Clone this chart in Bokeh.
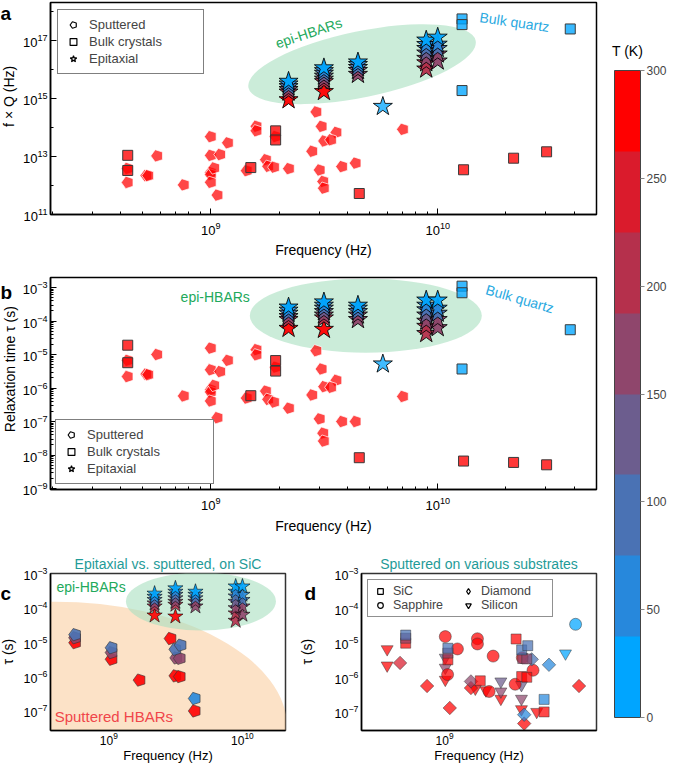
import numpy as np
from bokeh.plotting import figure
from bokeh.models import (FixedTicker, Legend, LegendItem, ColorBar, LinearColorMapper,
                          Label, ColumnDataSource, Range1d)
from bokeh.core.properties import value
from bokeh.transform import transform
from bokeh.layouts import row, column
from bokeh.embed import file_html
from bokeh.resources import INLINE

FONT = "Liberation Sans"
GREEN = "#22a95b"
QUARTZ = "#29a9e1"
TEAL = "#1f9b98"
RED_TXT = "#f0464a"

# ---------------- colour scale (temperature, K) ----------------
T_ticks = [0, 50, 100, 150, 200, 250, 300]
PAL = ["#00a5ff", "#2788dc", "#4a72b4", "#6c5d8e", "#8f466c", "#b5304c", "#da1b2c", "#ff0000"]
mapper = LinearColorMapper(palette=PAL, low=0, high=300)

# ---------------- panels a & b data ----------------
sput_f = [4.3e8, 4.3e8, 5.8e8, 5.2e8, 5.3e8, 7.6e8, 1.0e9, 1.0e9, 1.0e9, 1.0e9, 1.0e9,
          1.035e9, 1.1e9, 1.07e9, 1.19e9, 1.59e9, 1.59e9, 1.93e9, 1.44e9, 1.75e9, 1.79e9,
          1.9e9, 2.21e9, 2.92e9, 3.08e9, 3.58e9, 3.16e9, 3.39e9, 2.8e9, 3.02e9, 3.79e9,
          4.35e9, 3.13e9, 3.15e9, 7.03e9]
sput_tau = [6.7e-6, 2.2e-6, 1.0e-5, 2.6e-6, 2.5e-6, 5.8e-7, 1.55e-5, 3.5e-6, 8.9e-7, 7.6e-7, 4.1e-7,
            1.2e-6, 3.1e-6, 1.3e-7, 6.7e-6, 1.4e-5, 9.8e-6, 4.2e-6, 5.0e-7, 8.1e-7, 4.6e-7,
            3.8e-7, 2.5e-7, 1.3e-5, 3.7e-6, 1.7e-6, 1.1e-6, 1.05e-6, 6.2e-7, 1.2e-7, 1.0e-7,
            1.0e-7, 4.5e-8, 2.6e-8, 5.6e-7]
sput_T = [300] * len(sput_f)

bulk_f = [4.3e8, 4.3e8, 1.5e9, 1.93e9, 1.93e9, 4.51e9, 1.3e10, 2.16e10, 3.02e10,
          1.28e10, 1.28e10, 1.28e10, 3.84e10]
bulk_tau = [1.9e-5, 5.7e-6, 5.9e-7, 6.6e-6, 3.2e-6, 8.3e-9, 6.6e-9, 6.0e-9, 5.1e-9,
            1.1e-3, 7.0e-4, 3.7e-6, 5.5e-5]
bulk_T = [300, 300, 300, 300, 300, 300, 300, 300, 300, 10, 10, 10, 10]

# epitaxial HBARs (temperature stacks)
epi_f = [2.2e9] * 6 + [3.15e9] * 7 + [4.45e9] * 5 + [8.9e9] * 7 + [1.0e10] * 5
epi_tau = [2.6e-4, 2.1e-4, 1.7e-4, 1.35e-4, 1.1e-4, 6.0e-5,
           3.7e-4, 2.95e-4, 2.4e-4, 1.9e-4, 1.5e-4, 1.23e-4, 5.6e-5,
           2.95e-4, 2.4e-4, 1.9e-4, 1.5e-4, 1.1e-4,
           4.2e-4, 2.95e-4, 2.15e-4, 1.5e-4, 9.8e-5, 6.9e-5, 4.2e-5,
           4.2e-4, 2.4e-4, 1.7e-4, 1.1e-4, 6.3e-5]
epi_T = [10, 50, 100, 150, 200, 300,
         10, 50, 90, 130, 170, 220, 300,
         10, 50, 100, 150, 180,
         10, 50, 90, 130, 160, 190, 220,
         10, 60, 110, 160, 180]
# single epitaxial point outside the stacks
epi2_f = [5.73e9]
epi2_tau = [5.2e-6]
epi2_T = [10]

# ---------------- panels c & d data (sputtered) ----------------
sic_f = [5.6e8, 5.6e8, 5.6e8, 1.05e9, 1.05e9, 1.05e9, 1.7e9, 2.9e9, 3.15e9, 3.45e9,
         3.2e9, 3.4e9, 3.15e9, 3.4e9, 4.4e9, 4.4e9]
sic_tau = [1.66e-5, 1.35e-5, 9.7e-6, 6.9e-6, 5.0e-6, 3.2e-6, 7.9e-7, 1.28e-5, 6.2e-6, 8.2e-6,
           3.5e-6, 3.4e-6, 1.05e-6, 1.0e-6, 2.3e-7, 1.0e-7]
sic_T = [100, 170, 300, 100, 170, 300, 300, 300, 100, 100, 170, 170, 300, 300, 60, 300]

sap_f = [1.01e9, 1.045e9, 1.21e9, 1.63e9, 1.63e9, 2.06e9, 1.94e9, 2.86e9, 3.18e9, 3.73e9, 7.03e9]
sap_tau = [1.5e-5, 1.2e-6, 6.6e-6, 1.3e-5, 9.2e-6, 4.1e-6, 3.9e-7, 6.3e-7, 3.7e-6, 1.6e-6, 3.4e-5]
sap_T = [300, 300, 300, 300, 300, 300, 300, 300, 300, 300, 10]

si_f = [4.25e8, 4.25e8, 1.01e9, 1.01e9, 1.01e9, 1.58e9, 1.85e9, 2.31e9, 2.31e9, 2.31e9,
        3.14e9, 3.14e9, 3.14e9, 3.94e9, 6.05e9]
si_tau = [6.5e-6, 2.2e-6, 3.7e-6, 1.9e-6, 8.5e-7, 4.7e-7, 4.2e-7, 7.6e-7, 3.9e-7, 2.4e-7,
          6.0e-7, 2.4e-7, 1.2e-7, 1.0e-7, 4.9e-6]
si_T = [300, 300, 120, 180, 300, 300, 300, 120, 180, 300, 120, 180, 300, 300, 20]

dia_f = [5.15e8, 7.7e8, 1.08e9, 1.48e9, 1.48e9, 3.27e9, 3.27e9, 3.66e9, 4.73e9, 7.4e9]
dia_tau = [2.6e-6, 5.6e-7, 1.3e-7, 7.6e-7, 4.9e-7, 4.6e-8, 8.3e-8, 3.3e-6, 2.3e-6, 5.6e-7]
dia_T = [240, 300, 300, 150, 300, 300, 40, 80, 60, 300]

# tick labels
x_ticks = [1e9, 1e10]
a_y_ticks = [1e11, 1e13, 1e15, 1e17]
b_y_ticks = [1e-9, 1e-8, 1e-7, 1e-6, 1e-5, 1e-4, 1e-3]
cd_y_ticks = [1e-7, 1e-6, 1e-5, 1e-4, 1e-3]


# ---------------- helpers ----------------
def src(f, y, T, order_desc=True):
    f = np.asarray(f, float); y = np.asarray(y, float); T = np.asarray(T, float)
    idx = np.argsort(-T, kind="stable") if order_desc else np.arange(len(f))
    return ColumnDataSource(dict(x=f[idx], y=y[idx], T=T[idx]))


def pentagons(p, source, radius, **kw):
    try:
        return p.ngon(x="x", y="y", radius=radius, radius_units="screen", n=5,
                      angle=np.pi / 2, source=source, **kw)
    except Exception:
        return p.scatter(x="x", y="y", marker="hex", size=2 * radius, source=source, **kw)


def make_fig(w, h, xr, yr, bl, br, bt, bb):
    p = figure(width=w, height=h, x_axis_type="log", y_axis_type="log",
               x_range=Range1d(*xr), y_range=Range1d(*yr),
               toolbar_location=None, output_backend="svg",
               min_border_left=bl, min_border_right=br, min_border_top=bt, min_border_bottom=bb,
               background_fill_color="white", border_fill_color="white")
    p.grid.visible = False
    p.outline_line_color = "black"
    p.outline_line_width = 1.5
    p.outline_line_alpha = 1
    return p


def style_axes(p, xt, xminor, yt, yminor, ticks=True, lab="13px", axl="14px",
               xstand=(6, 4), xlab=None, xaxl=None):
    p.xaxis.ticker = FixedTicker(ticks=xt, minor_ticks=xminor)
    p.yaxis.ticker = FixedTicker(ticks=yt, minor_ticks=yminor)
    for ax in p.xaxis + p.yaxis:
        ax.major_label_text_font = FONT
        ax.major_label_text_font_size = lab
        ax.major_label_text_color = "black"
        ax.axis_label_text_font = FONT
        ax.axis_label_text_font_size = axl
        ax.axis_label_text_font_style = "normal"
        ax.axis_label_text_color = "black"
        ax.axis_line_width = 1.5
        ax.major_label_standoff = 3
        ax.axis_label_standoff = 2
        if ticks:
            ax.major_tick_in = 6
            ax.major_tick_out = 0
            ax.minor_tick_in = 3
            ax.minor_tick_out = 0
        else:
            ax.major_tick_in = 0
            ax.major_tick_out = 0
            ax.minor_tick_in = 0
            ax.minor_tick_out = 0
    for ax in p.xaxis:
        ax.major_label_standoff = xstand[0]
        ax.axis_label_standoff = xstand[1]
        if xlab:
            ax.major_label_text_font_size = xlab
        if xaxl:
            ax.axis_label_text_font_size = xaxl


def strip(w, h, letter, lx, ly, ylabel, yx, yy):
    """Narrow text column left of a panel: panel letter and the rotated y-axis title."""
    s = figure(width=w, height=h, x_range=Range1d(0, w), y_range=Range1d(0, h),
               toolbar_location=None, output_backend="svg",
               x_axis_location=None, y_axis_location=None, min_border=0,
               outline_line_color=None, background_fill_color="white",
               border_fill_color="white")
    s.grid.visible = False
    s.text(x=[lx], y=[ly], text=[letter], text_font=value(FONT), text_font_size="19px",
           text_font_style="bold", text_baseline="top", text_align="left", text_color="black")
    s.text(x=[yx], y=[yy], text=[ylabel], angle=np.pi / 2, text_font=value(FONT),
           text_font_size="14px", text_baseline="middle", text_align="center",
           text_color="black")
    return s


def ghost(p, kind, source):
    # invisible renderer that only supplies the legend symbol
    common = dict(fill_color="white", line_color="black", line_width=1.2, visible=False)
    if kind == "pent":
        return pentagons(p, source, 6, **common)
    if kind == "square":
        return p.scatter(x="x", y="y", marker="square", size=10, source=source, **common)
    if kind == "star":
        return p.scatter(x="x", y="y", marker="star", size=15, source=source, **common)
    if kind == "circle":
        return p.scatter(x="x", y="y", marker="circle", size=11, source=source, **common)
    if kind == "diamond":
        return p.scatter(x="x", y="y", marker="diamond", size=15, source=source, **common)
    return p.scatter(x="x", y="y", marker="inverted_triangle", size=11, source=source, **common)


minor_x = [m * 10.0 ** e for e in (8, 9, 10) for m in range(2, 10)]
minor_a_y = [1e12, 1e14, 1e16, 1e18]
minor_b_y = [m * 10.0 ** e for e in range(-10, -2) for m in range(2, 10)]

color = transform("T", mapper)


def fq(f, tau):
    f = np.asarray(f, float)
    return np.pi * f ** 2 * np.asarray(tau, float)


# ======================= panel a =======================
pa = make_fig(585, 262, (10 ** 8.293, 10 ** 10.70), (1e11, 10 ** 18.32), 31, 8, 2, 48)
style_axes(pa, x_ticks, minor_x, a_y_ticks, minor_a_y, xstand=(7, 4))
pa.xaxis.axis_label = "Frequency (Hz)"

pa.ellipse(x=[4.64e9], y=[1.55e16], width=232, height=66, angle=0.204,
           width_units="screen", height_units="screen",
           fill_color="#a8dfc0", fill_alpha=0.6, line_color=None)

sa_p = src(sput_f, fq(sput_f, sput_tau), sput_T)
sa_b = src(bulk_f, fq(bulk_f, bulk_tau), bulk_T)
sa_e = src(epi_f, fq(epi_f, epi_tau), epi_T)
pentagons(pa, sa_p, 6.5, fill_color=color, fill_alpha=0.72, line_color="white",
          line_alpha=0.7, line_width=1)
pa.scatter(x="x", y="y", marker="square", size=10, source=sa_b,
           fill_color=color, fill_alpha=0.78, line_color="#3a3a3a", line_width=1)
pa.scatter(x="x", y="y", marker="star", size=20, source=sa_e,
           fill_color=color, fill_alpha=0.95, line_color="black", line_alpha=0.85, line_width=1)
pa.scatter(x="x", y="y", marker="star", size=20, source=src(epi2_f, fq(epi2_f, epi2_tau), epi2_T),
           fill_color=color, fill_alpha=0.75, line_color="black", line_alpha=0.85, line_width=1)

pa.add_layout(Label(x=2.7e9, y=1.86e17, text="epi-HBARs", angle=0.32, text_align="center",
                    text_baseline="middle", text_color=GREEN, text_font=FONT, text_font_size="14px"))
pa.add_layout(Label(x=2.18e10, y=4.4e17, text="Bulk quartz", angle=-0.146, text_align="center",
                    text_baseline="middle", text_color=QUARTZ, text_font=FONT, text_font_size="14px"))

ra = [ghost(pa, "pent", sa_p), ghost(pa, "square", sa_b), ghost(pa, "star", sa_e)]
leg_a = Legend(items=[LegendItem(label="Sputtered", renderers=[ra[0]]),
                      LegendItem(label="Bulk crystals", renderers=[ra[1]]),
                      LegendItem(label="Epitaxial", renderers=[ra[2]])],
               location="top_left", margin=7, padding=6, spacing=0,
               label_text_font=FONT, label_text_font_size="13px",
               label_height=17, glyph_height=17, glyph_width=18, label_standoff=7,
               label_width=108, border_line_color="black", border_line_width=1.5,
               background_fill_alpha=1)
pa.add_layout(leg_a)
sa = strip(19, 262, "a", 0, 262, "f × Q (Hz)", 8, 146)

# ======================= panel b =======================
pb = make_fig(585, 280, (10 ** 8.293, 10 ** 10.70), (10 ** -9.03, 10 ** -2.70), 31, 8, 15, 53)
style_axes(pb, x_ticks, minor_x, b_y_ticks, minor_b_y, xstand=(7, 5))
pb.xaxis.axis_label = "Frequency (Hz)"

pb.ellipse(x=[4.82e9], y=[1.45e-4], width=232, height=74, angle=0.0,
           width_units="screen", height_units="screen",
           fill_color="#a8dfc0", fill_alpha=0.6, line_color=None)
sb_p = src(sput_f, sput_tau, sput_T)
sb_b = src(bulk_f, bulk_tau, bulk_T)
sb_e = src(epi_f, epi_tau, epi_T)
pentagons(pb, sb_p, 6.5, fill_color=color, fill_alpha=0.72, line_color="white",
          line_alpha=0.7, line_width=1)
pb.scatter(x="x", y="y", marker="square", size=10, source=sb_b,
           fill_color=color, fill_alpha=0.78, line_color="#3a3a3a", line_width=1)
pb.scatter(x="x", y="y", marker="star", size=20, source=sb_e,
           fill_color=color, fill_alpha=0.95, line_color="black", line_alpha=0.85, line_width=1)
pb.scatter(x="x", y="y", marker="star", size=20, source=src(epi2_f, epi2_tau, epi2_T),
           fill_color=color, fill_alpha=0.75, line_color="black", line_alpha=0.85, line_width=1)

pb.add_layout(Label(x=1.045e9, y=5.2e-4, text="epi-HBARs", text_align="center",
                    text_baseline="middle", text_color=GREEN, text_font=FONT, text_font_size="14px"))
pb.add_layout(Label(x=2.3e10, y=4.6e-4, text="Bulk quartz", angle=-0.28, text_align="center",
                    text_baseline="middle", text_color=QUARTZ, text_font=FONT, text_font_size="14px"))

rb = [ghost(pb, "pent", sb_p), ghost(pb, "square", sb_b), ghost(pb, "star", sb_e)]
leg_b = Legend(items=[LegendItem(label="Sputtered", renderers=[rb[0]]),
                      LegendItem(label="Bulk crystals", renderers=[rb[1]]),
                      LegendItem(label="Epitaxial", renderers=[rb[2]])],
               location="bottom_left", margin=5, padding=6, spacing=0,
               label_text_font=FONT, label_text_font_size="13px",
               label_height=17, glyph_height=17, glyph_width=18, label_standoff=7,
               label_width=120, border_line_color="black", border_line_width=1.5,
               background_fill_alpha=1)
pb.add_layout(leg_b)
sb = strip(19, 280, "b", 0, 274, "Relaxation time τ (s)", 9, 159)

# ======================= panel c =======================
pc = make_fig(273, 223, (3.66e8, 2.1e10), (2.7e-8, 1e-3), 31, 7, 31, 30)
style_axes(pc, x_ticks, [], cd_y_ticks, [], ticks=False, lab="12.5px", axl="13.5px",
           xstand=(1, 0), xlab="12px", xaxl="13px")
pc.xaxis.axis_label = "Frequency (Hz)"
pc.outline_line_color = "#333333"
pc.title.text = "Epitaxial vs. sputtered, on SiC"
pc.title.align = "center"
pc.title.text_color = TEAL
pc.title.text_font = FONT
pc.title.text_font_size = "14px"
pc.title.text_font_style = "normal"
pc.title.standoff = 4

pc.ellipse(x=[3.92e8], y=[3.05e-8], width=466, height=254, angle=0.0,
           width_units="screen", height_units="screen",
           fill_color="#f9c590", fill_alpha=0.5, line_color=None)
pc.ellipse(x=[4.89e9], y=[1.54e-4], width=150, height=58, angle=0.0,
           width_units="screen", height_units="screen",
           fill_color="#a8dfc0", fill_alpha=0.6, line_color=None)
pentagons(pc, src(sic_f, sic_tau, sic_T), 6.5,
          fill_color=color, fill_alpha=0.9, line_color="#333333", line_alpha=0.6, line_width=1)
pc.scatter(x="x", y="y", marker="star", size=16, source=src(epi_f, epi_tau, epi_T),
           fill_color=color, fill_alpha=0.9, line_color="black", line_alpha=0.7, line_width=0.8)
pc.add_layout(Label(x=7.36e8, y=4.0e-4, text="epi-HBARs", text_align="center",
                    text_baseline="middle", text_color=GREEN, text_font=FONT, text_font_size="14px"))
pc.add_layout(Label(x=1.09e9, y=6.8e-8, text="Sputtered HBARs", text_align="center",
                    text_baseline="middle", text_color=RED_TXT, text_font=FONT, text_font_size="15px"))
sc = strip(19, 223, "c", 0, 210, "τ (s)", 7, 112)

# ======================= panel d =======================
pd_ = make_fig(288, 223, (2.9e8, 9.6e9), (2.9e-8, 1e-3), 45, 8, 31, 30)
style_axes(pd_, x_ticks, [], cd_y_ticks, [], ticks=False, lab="12.5px", axl="13.5px",
           xstand=(1, 0), xlab="12px", xaxl="13px")
pd_.xaxis.axis_label = "Frequency (Hz)"
pd_.outline_line_color = "#333333"
pd_.title.text = "Sputtered on various substrates"
pd_.title.align = "center"
pd_.title.text_color = TEAL
pd_.title.text_font = FONT
pd_.title.text_font_size = "14px"
pd_.title.text_font_style = "normal"
pd_.title.standoff = 4

dkw = dict(fill_color=color, fill_alpha=0.72, line_color="#333333", line_alpha=0.6, line_width=0.8)
s_si = src(si_f, si_tau, si_T)
s_sap = src(sap_f, sap_tau, sap_T)
s_dia = src(dia_f, dia_tau, dia_T)
s_sic = src(sic_f, sic_tau, sic_T)
pd_.scatter(x="x", y="y", marker="inverted_triangle", size=12, source=s_si, **dkw)
pd_.scatter(x="x", y="y", marker="circle", size=12, source=s_sap, **dkw)
pd_.scatter(x="x", y="y", marker="square", angle=np.pi / 4, size=9.5, source=s_dia, **dkw)
pd_.scatter(x="x", y="y", marker="square", size=10, source=s_sic, **dkw)

rd = [ghost(pd_, "square", s_sic), ghost(pd_, "circle", s_sap),
      ghost(pd_, "diamond", s_dia), ghost(pd_, "tri", s_si)]
leg_d = Legend(items=[LegendItem(label="SiC", renderers=[rd[0]]),
                      LegendItem(label="Sapphire", renderers=[rd[1]]),
                      LegendItem(label="Diamond", renderers=[rd[2]]),
                      LegendItem(label="Silicon", renderers=[rd[3]])],
               location="top_left", margin=6, padding=4, spacing=0, ncols=2,
               orientation="vertical",
               label_text_font=FONT, label_text_font_size="12.5px",
               label_height=14, glyph_height=14, glyph_width=16, label_standoff=5,
               label_width=67, border_line_color="#222222", border_line_width=1.3,
               background_fill_alpha=1)
pd_.add_layout(leg_d)
sd = strip(24, 223, "d", 12, 210, "τ (s)", 14, 112)

# ======================= colour bar =======================
fcb = figure(width=65, height=765, toolbar_location=None, output_backend="svg",
             x_axis_location=None, y_axis_location=None, min_border=0,
             x_range=Range1d(0, 65), y_range=Range1d(0, 765),
             outline_line_color=None, background_fill_color="white", border_fill_color="white")
fcb.grid.visible = False
cb = ColorBar(color_mapper=mapper, ticker=FixedTicker(ticks=T_ticks), width=26, height=647,
              location=(10, 48), padding=0, title=None,
              major_label_text_font=FONT, major_label_text_font_size="12px",
              major_tick_in=0, major_tick_out=4, major_tick_line_color="#888888",
              bar_line_color="#444444", bar_line_width=1, label_standoff=2,
              background_fill_alpha=0)
fcb.add_layout(cb)
fcb.add_layout(Label(x=23, y=707, text="T (K)", text_align="center", text_baseline="bottom",
                     text_font=FONT, text_font_size="14px", text_color="black"))

left = column(row(sa, pa), row(sb, pb), row(sc, pc, sd, pd_))
layout = row(left, fcb)
open("out.html", "w").write(file_html(layout, INLINE))
